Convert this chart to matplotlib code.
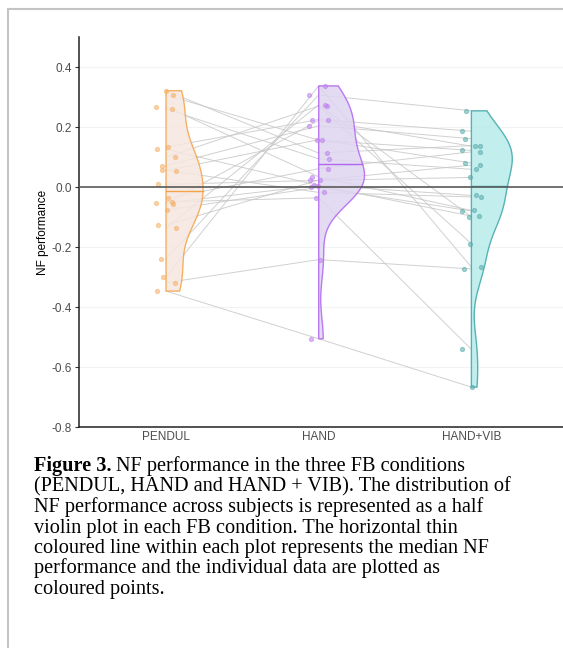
import matplotlib
matplotlib.use("Agg")
import matplotlib.pyplot as plt
import numpy as np
from matplotlib.lines import Line2D

# conditions
conditions = ["PENDUL", "HAND", "HAND+VIB"]

# NF performance per subject (same subject order in each list)
pendul = [0.321, 0.307, 0.268, 0.260, 0.133, 0.126, 0.099, 0.071, 0.056, 0.055, 0.009,
          -0.038, -0.050, -0.053, -0.055, -0.077, -0.127, -0.137, -0.240, -0.300, -0.319, -0.347]
hand = [0.113, 0.156, 0.034, 0.094, 0.225, 0.005, 0.270, 0.204, -0.018, 0.158, 0.022,
        0.061, -0.036, 0.006, 0.222, -0.001, 0.023, 0.274, 0.307, 0.337, -0.242, -0.506]
hand_vib = [0.138, 0.122, -0.078, 0.059, 0.186, -0.097, -0.189, 0.161, -0.033, 0.080, 0.032,
            0.117, -0.541, -0.028, 0.136, -0.080, 0.073, -0.099, 0.254, -0.267, -0.273, -0.667]

yticks = [0.4, 0.2, 0.0, -0.2, -0.4, -0.6, -0.8]
ytick_labels = ["0.4", "0.2", "0.0", "-0.2", "-0.4", "-0.6", "-0.8"]

edge_cols = ["#F4A448", "#B264F2", "#3FA7A7"]
fill_cols = ["#F6E7E1", "#DED5EF", "#B8EBEB"]
point_cols = ["#F6B065", "#BE80F0", "#5AABAB"]

caption = [
    "NF performance in the three FB conditions",
    "(PENDUL, HAND and HAND + VIB). The distribution of",
    "NF performance across subjects is represented as a half",
    "violin plot in each FB condition. The horizontal thin",
    "coloured line within each plot represents the median NF",
    "performance and the individual data are plotted as",
    "coloured points.",
]

groups = [np.array(pendul), np.array(hand), np.array(hand_vib)]
pos = np.arange(1, 4)


def kde(vals, grid):
    n = len(vals)
    sd = vals.std(ddof=1)
    iqr = np.subtract(*np.percentile(vals, [75, 25]))
    bw = 0.9 * min(sd, iqr / 1.34) * n ** -0.2
    z = (grid[:, None] - vals[None, :]) / bw
    return np.exp(-0.5 * z ** 2).sum(axis=1) / (n * bw * np.sqrt(2 * np.pi))


fig = plt.figure(figsize=(5.63, 6.48), dpi=100)
ax = fig.add_axes([79 / 563, 1 - 427 / 648, 1 - 79 / 563, (427 - 37) / 648])

# subject lines
for i in range(len(pendul)):
    ax.plot(pos, [pendul[i], hand[i], hand_vib[i]], color="#c8c8c8", lw=0.7,
            alpha=0.85, zorder=2)

# half violins
grids, dens = [], []
for g in groups:
    yy = np.linspace(g.min(), g.max(), 300)
    grids.append(yy)
    dens.append(kde(g, yy))
scale = 0.30 / max(d.max() for d in dens)

for k, g in enumerate(groups):
    yy, w = grids[k], dens[k] * scale
    xs = np.concatenate([[pos[k]], pos[k] + w, [pos[k]]])
    ys = np.concatenate([[yy[0]], yy, [yy[-1]]])
    ax.fill(xs, ys, facecolor=fill_cols[k], edgecolor=edge_cols[k], lw=1.0,
            alpha=0.85, zorder=3)
    med = np.median(g)
    wm = np.interp(med, yy, w)
    ax.plot([pos[k], pos[k] + wm], [med, med], color=edge_cols[k], lw=1.0, zorder=4)
    # jittered points
    jit = 0.065 * np.sin(np.arange(len(g)) * 2.3 + k)
    ax.plot(pos[k] + jit, g, "o", ms=3.0, mfc=point_cols[k], mec=point_cols[k],
            alpha=0.55, mew=0.8, ls="none", zorder=5)

ax.axhline(0, color="#5a5a5a", lw=1.2, zorder=6)

ax.set_xlim(0.43, 3.6)
ax.set_ylim(-0.8, 0.5)
ax.set_yticks(yticks)
ax.set_yticklabels(ytick_labels, fontsize=8.5, color="#4d4d4d", family="Liberation Sans")
ax.set_xticks(pos)
ax.set_xticklabels(conditions, fontsize=8.5, color="#4d4d4d", family="Liberation Sans")
ax.tick_params(axis="x", length=0, pad=3)
ax.tick_params(axis="y", length=3, width=0.8, color="#333333", pad=2)
ax.set_ylabel("NF performance", fontsize=8.5, family="Liberation Sans", labelpad=2)
ax.grid(axis="y", color="#f3f3f3", lw=0.8)
ax.set_axisbelow(True)
for s in ["top", "right"]:
    ax.spines[s].set_visible(False)
for s in ["left", "bottom"]:
    ax.spines[s].set_color("#222222")
    ax.spines[s].set_linewidth(1.1)

# page border
fig.add_artist(Line2D([8 / 563, 8 / 563], [0, 1 - 9 / 648], color="#c4c4c4", lw=1.5))
fig.add_artist(Line2D([8 / 563, 1], [1 - 9 / 648, 1 - 9 / 648], color="#c4c4c4", lw=1.5))

# caption
x0 = 34 / 563
y0 = 1 - 471 / 648
dy = 20.5 / 648
t = fig.text(x0, y0, "Figure 3.", fontsize=14.6, fontweight="bold", family="Liberation Serif",
             va="baseline")
fig.canvas.draw()
bb = t.get_window_extent()
fig.text(bb.x1 / fig.bbox.width + 5 / 563, y0, caption[0], fontsize=14.6,
         family="Liberation Serif", va="baseline")
for j, line in enumerate(caption[1:], start=1):
    fig.text(x0, y0 - j * dy, line, fontsize=14.6, family="Liberation Serif", va="baseline")

fig.savefig("out.png", dpi=100)
